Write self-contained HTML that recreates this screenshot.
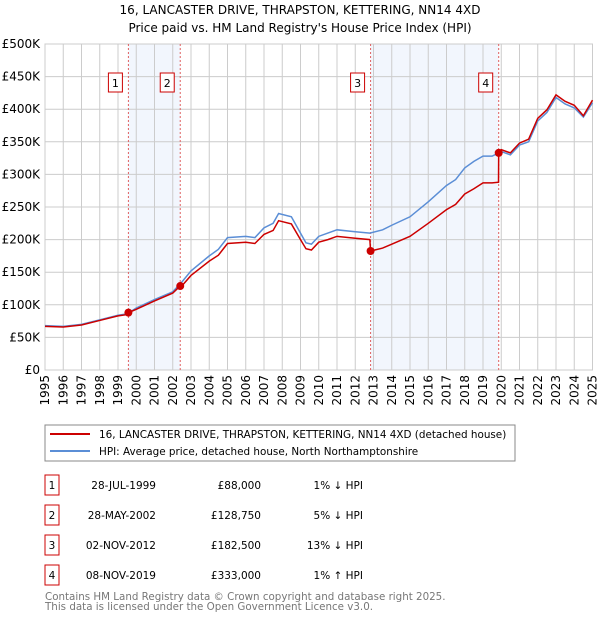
<!DOCTYPE html>
<html><head><meta charset="utf-8"><style>
body{margin:0;background:#fff;font-family:"DejaVu Sans","Liberation Sans",sans-serif;}
svg text{font-family:"DejaVu Sans","Liberation Sans",sans-serif;}
</style></head><body>
<svg id="c" width="600" height="620" xmlns="http://www.w3.org/2000/svg">
<text x="300" y="14" text-anchor="middle" font-size="12">16, LANCASTER DRIVE, THRAPSTON, KETTERING, NN14 4XD</text>
<text x="300" y="32" text-anchor="middle" font-size="12">Price paid vs. HM Land Registry's House Price Index (HPI)</text>
<g id="plot"></g>
<rect x="45" y="425" width="470" height="36" fill="#fff" stroke="#888"/>
<line x1="50" y1="434" x2="90" y2="434" stroke="#cc0000" stroke-width="2"/>
<text x="99" y="438" font-size="10.4">16, LANCASTER DRIVE, THRAPSTON, KETTERING, NN14 4XD (detached house)</text>
<line x1="50" y1="451" x2="90" y2="451" stroke="#5b8ed6" stroke-width="2"/>
<text x="99" y="455" font-size="10.4">HPI: Average price, detached house, North Northamptonshire</text>
<g id="tbl" font-size="10.5"></g>
<text x="45" y="600" font-size="10.3" fill="#777">Contains HM Land Registry data © Crown copyright and database right 2025.</text>
<text x="45" y="610" font-size="10.3" fill="#777">This data is licensed under the Open Government Licence v3.0.</text>
</svg>
<script>
const yTicks=[0,50,100,150,200,250,300,350,400,450,500];
const yTickLabels=["£0","£50K","£100K","£150K","£200K","£250K","£300K","£350K","£400K","£450K","£500K"];
const years=[1995,1996,1997,1998,1999,2000,2001,2002,2003,2004,2005,2006,2007,2008,2009,2010,2011,2012,2013,2014,2015,2016,2017,2018,2019,2020,2021,2022,2023,2024,2025];
const hpiT=[1995,1996,1997,1998,1999,1999.5,2000,2001,2002,2002.5,2003,2004,2004.5,2005,2006,2006.5,2007,2007.5,2007.8,2008.5,2009,2009.3,2009.6,2010,2010.5,2011,2012,2012.8,2013.5,2014,2015,2016,2017,2017.5,2018,2018.5,2019,2019.5,2020,2020.5,2021,2021.5,2022,2022.5,2023,2023.5,2024,2024.5,2025];
const hpiV=[68,67,70,77,84,86,95,108,120,135,152,175,185,203,205,203,218,225,240,235,210,195,193,205,210,215,212,210,215,222,235,258,283,292,310,320,328,328,335,330,345,350,382,395,418,408,402,388,410];
const redT=[1995,1996,1997,1998,1999,1999.5,1999.57,2000,2001,2002,2002.4,2002.5,2003,2004,2004.5,2005,2006,2006.5,2007,2007.5,2007.8,2008.5,2009,2009.3,2009.6,2010,2010.5,2011,2012,2012.8,2012.84,2013.5,2014,2015,2016,2017,2017.5,2018,2018.5,2019,2019.5,2019.85,2019.86,2020,2020.5,2021,2021.5,2022,2022.5,2023,2023.5,2024,2024.5,2025];
const redV=[67,66,69,76,83,85,88,93,106,118,128.75,129,145,167,176,194,196,194,208,214,229,224,200,186,184,196,200,205,202,200,182.5,187,193,205,225,246,254,270,278,287,287,288,333,338,333,348,354,386,399,422,412,406,390,414];
const saleLabels=["1","2","3","4"];
const saleT=[1999.57,2002.41,2012.84,2019.86];
const saleV=[88,128.75,182.5,333];
const saleDates=["28-JUL-1999","28-MAY-2002","02-NOV-2012","08-NOV-2019"];
const salePrices=["£88,000","£128,750","£182,500","£333,000"];
const saleDiff=["1% ↓ HPI","5% ↓ HPI","13% ↓ HPI","1% ↑ HPI"];
const X0=45,X1=592.5,Y0=370,Y1=44;
const x=t=>X0+(t-1995)/30*(X1-X0);
const y=v=>Y0-v/500*(Y0-Y1);
const NS="http://www.w3.org/2000/svg";
const P=document.getElementById('plot');
function mk(tag,attrs,parent){const e=document.createElementNS(NS,tag);for(const k in attrs)e.setAttribute(k,attrs[k]);(parent||P).appendChild(e);return e;}
for(let i=0;i<4;i+=2){const r=mk('rect',{x:x(saleT[i]),y:Y1,width:x(saleT[i+1])-x(saleT[i]),height:Y0-Y1,fill:'#edf2fc',opacity:0.7});

}
yTicks.forEach((v,i)=>{const l=mk('line',{x1:X0,x2:X1,y1:y(v),y2:y(v),stroke:'#ccc'});


const t=mk('text',{x:X0-5,y:y(v)+4,'text-anchor':'end','font-size':12});t.textContent=yTickLabels[i];

});
years.forEach(yr=>{const l=mk('line',{x1:x(yr),x2:x(yr),y1:Y1,y2:Y0,stroke:'#ccc'});


const t=mk('text',{transform:`translate(${x(yr)+4},${Y0+5}) rotate(-90)`,'text-anchor':'end','font-size':12});t.textContent=yr;

});
mk('rect',{x:X0,y:Y1,width:X1-X0,height:Y0-Y1,fill:'none',stroke:'#ccc'});
saleT.forEach((t,i)=>{const l=mk('line',{x1:x(t),x2:x(t),y1:Y1,y2:Y0,stroke:'#e06060','stroke-dasharray':'2,2'});


const b=mk('rect',{x:x(t)-20,y:73,width:14,height:19,fill:'#fff',stroke:'#cc0000'});


const tx=mk('text',{x:x(t)-13,y:87,'text-anchor':'middle','font-size':11});tx.textContent=saleLabels[i];

});
const hp=mk('polyline',{points:hpiT.map((t,i)=>x(t)+','+y(hpiV[i])).join(' '),fill:'none',stroke:'#5b8ed6','stroke-width':1.5});


const rp=mk('polyline',{points:redT.map((t,i)=>x(t)+','+y(redV[i])).join(' '),fill:'none',stroke:'#cc0000','stroke-width':1.5});


saleT.forEach((t,i)=>{const c=mk('circle',{cx:x(t),cy:y(saleV[i]),r:4,fill:'#cc0000'});

});
const T=document.getElementById('tbl');
saleT.forEach((t,i)=>{const yy=483+i*30;
const b=mk('rect',{x:45,y:yy-8,width:14,height:20,fill:'#fff',stroke:'#cc0000'},T);


const cells=[[52,'middle',saleLabels[i]],[156,'end',saleDates[i]],[261,'end',salePrices[i]],[363,'end',saleDiff[i]]];
cells.forEach(c=>{const e=mk('text',{x:c[0],y:yy+6,'text-anchor':c[1]},T);e.textContent=c[2];

});});
</script>
</body></html>
